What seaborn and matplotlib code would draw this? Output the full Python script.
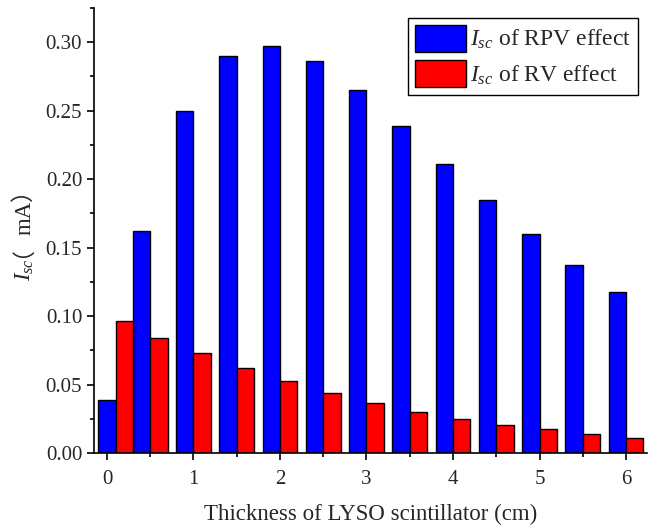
import numpy as np
import pandas as pd
import matplotlib.pyplot as plt
from matplotlib.ticker import MultipleLocator
import seaborn as sns

# thickness of the LYSO scintillator (cm) and short-circuit currents (mA)
thickness = [0.1, 0.5, 1.0, 1.5, 2.0, 2.5, 3.0, 3.5, 4.0, 4.5, 5.0, 5.5, 6.0]
isc_rpv = [0.0385, 0.162, 0.250, 0.290, 0.297, 0.286, 0.265, 0.239,
           0.211, 0.185, 0.160, 0.1375, 0.1175]
isc_rv = [0.0966, 0.0840, 0.0728, 0.0618, 0.0525, 0.0438, 0.0362, 0.0302,
          0.0250, 0.0208, 0.0172, 0.0142, 0.0113]
series = ['$I_{sc}$ of RPV effect', '$I_{sc}$ of RV effect']

datos = pd.DataFrame({
    'x': thickness * 2,
    'y': isc_rpv + isc_rv,
    'serie': [series[0]] * len(thickness) + [series[1]] * len(thickness),
})

sns.set_style("ticks")
plt.rcParams['font.family'] = ['Liberation Serif']
plt.rcParams['mathtext.fontset'] = 'custom'
plt.rcParams['mathtext.rm'] = 'Liberation Serif'
plt.rcParams['mathtext.it'] = 'Liberation Serif:italic'

fig, ax = plt.subplots(figsize=(6.62, 5.28), dpi=100)
fig.subplots_adjust(left=0.142, right=0.977, bottom=0.142, top=0.985)

sns.barplot(data=datos, x='x', y='y', hue='serie', native_scale=True,
            width=1.0, palette=['#0000ff', '#ff0000'], saturation=1,
            edgecolor='black', linewidth=1, ax=ax)

ax.set_xlim(-0.15, 6.24)
ax.set_ylim(0, 0.325)
ax.xaxis.set_minor_locator(MultipleLocator(0.5))
ax.yaxis.set_minor_locator(MultipleLocator(0.025))
ax.set_xticks(range(7))
ax.set_xticklabels([str(i) for i in range(7)])
ax.set_yticks([0, 0.05, 0.10, 0.15, 0.20, 0.25, 0.30])
ax.set_yticklabels(['0.00', '0.05', '0.10', '0.15', '0.20', '0.25', '0.30'])
ax.tick_params(which='major', direction='out', length=5, width=1.2, labelsize=15, color='black')
ax.tick_params(axis='x', which='major', pad=7)
ax.tick_params(which='minor', direction='out', length=3, width=1.2, color='black')
for s in ['left', 'bottom']:
    ax.spines[s].set_linewidth(1.2)
    ax.spines[s].set_color('black')
sns.despine(ax=ax)

ax.set_xlabel('Thickness of LYSO scintillator (cm)', fontsize=16.5, labelpad=11)
ax.set_ylabel('')

sns.move_legend(ax, 'upper right', bbox_to_anchor=(0.984, 0.978), title=None,
                frameon=True, fancybox=False, edgecolor='black', framealpha=1,
                fontsize=17, handlelength=2.15, handleheight=1.38,
                borderaxespad=0, borderpad=0.3, labelspacing=0.37, handletextpad=0.15)
ax.get_legend().get_frame().set_linewidth(1)

# y label "I_sc（mA）" built from pieces on one rotated baseline:
# the full-width brackets come from the CJK font, the rest from the serif font
pieces = [('$I_{sc}$', 'Liberation Serif'), ('（', 'Noto Sans CJK SC'),
          ('mA', 'Liberation Serif'), ('）', 'Noto Sans CJK SC')]
base_x = 31 / 662
y_px = 528 - 281
textos = []
for txt, fam in pieces:
    t = fig.text(base_x, y_px / 528, txt, rotation=90, fontsize=16.5, family=fam,
                 ha='left', va='baseline', rotation_mode='anchor')
    fig.canvas.draw()
    y_px = t.get_window_extent().y1
    textos.append(t)

# rotated CJK glyphs come out shifted sideways; line them up with "mA" by their ink
img = np.asarray(fig.canvas.buffer_rgba())[:, :, :3].astype(int)
H = img.shape[0]

def ink_centre(t):
    bb = t.get_window_extent()
    r0, r1 = max(int(H - bb.y1), 0), int(H - bb.y0)
    cols = np.where((img[r0:r1, 0:44].sum(axis=2) < 450).any(axis=0))[0]
    return (cols.min() + cols.max()) / 2

centre_ma = ink_centre(textos[2])
for t in (textos[1], textos[3]):
    shift = centre_ma - 1.5 - ink_centre(t)
    t.set_x(t.get_position()[0] + shift / fig.bbox.width)

plt.savefig('out.png', dpi=100)
